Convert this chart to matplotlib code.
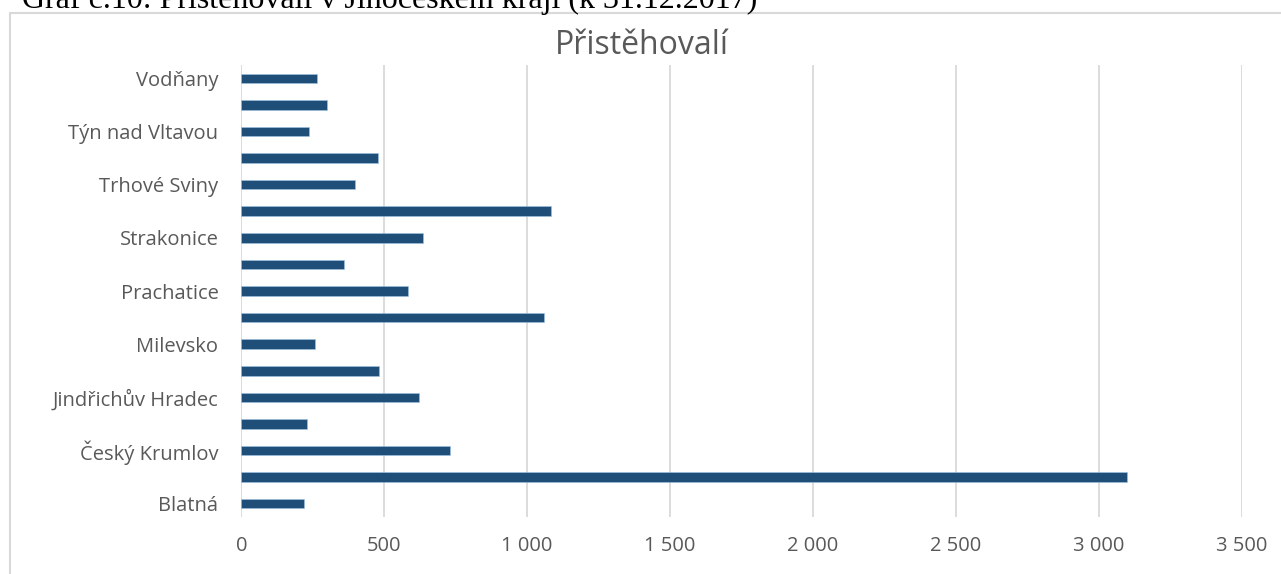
import matplotlib
matplotlib.use("Agg")
import matplotlib.pyplot as plt
from matplotlib.patches import Rectangle
from matplotlib.ticker import FuncFormatter

categories = ["Blatná", "České Budějovice", "Český Krumlov", "Dačice",
              "Jindřichův Hradec", "Kaplice", "Milevsko", "Písek",
              "Prachatice", "Soběslav", "Strakonice", "Tábor",
              "Trhové Sviny", "Třeboň", "Týn nad Vltavou", "Vimperk", "Vodňany"]
values = [220, 3098, 732, 230, 623, 482, 257, 1058, 583, 360, 637, 1082,
          399, 477, 238, 300, 265]
x_ticks = [0, 500, 1000, 1500, 2000, 2500, 3000, 3500]

W, H = 1281, 574
fig = plt.figure(figsize=(W / 100, H / 100), dpi=100)
fig.patch.set_facecolor("white")

# chart border
fig.patches.append(Rectangle((10 / W, -0.05), 1.1, (H - 13) / H + 0.05,
                             transform=fig.transFigure, fill=False,
                             edgecolor="#d9d9d9", linewidth=1.5))

# document caption (partly cut at top)
fig.text(22 / W, 1 - 8 / H, "Graf č.10: Přistěhovalí v Jihočeském kraji (k 31.12.2017)",
         family="Liberation Serif", fontsize=23, color="black",
         ha="left", va="baseline")

left, right = 241.3 / W, 1241.5 / W
top, bottom = 65 / H, 517 / H
ax = fig.add_axes([left, 1 - bottom, right - left, bottom - top])

y = list(range(len(categories)))
ax.barh(y, values, height=0.36, color="#1f4e79", edgecolor="#9dc3e6", linewidth=0.4)
ax.set_ylim(-0.5, len(categories) - 0.5)
ax.set_xlim(0, 3500)
ax.set_xticks(x_ticks)
ax.xaxis.set_major_formatter(FuncFormatter(lambda v, p: f"{int(v):,}".replace(",", " ")))
ax.set_yticks(y[::2])
ax.set_yticklabels(categories[::2])
for s in ax.spines.values():
    s.set_visible(False)
ax.grid(axis="x", color="#d9d9d9", linewidth=1.3)
ax.set_axisbelow(True)
ax.tick_params(axis="both", length=0, labelsize=14.5, labelcolor="#595959")
ax.tick_params(axis="y", pad=16.5)
ax.tick_params(axis="x", pad=14)
for lbl in ax.get_xticklabels() + ax.get_yticklabels():
    lbl.set_family("Open Sans")

fig.text((553 + 730) / 2 / W, 1 - 46 / H, "Přistěhovalí", family="Open Sans",
         fontsize=23, color="#595959", ha="center", va="center")

fig.savefig("out.png", dpi=100)
